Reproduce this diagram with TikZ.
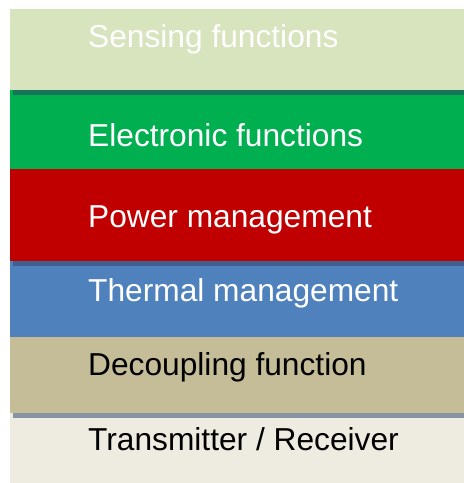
\documentclass[tikz,border=0pt]{standalone}
\usepackage{fontspec}
\setmainfont{Liberation Sans}
\usetikzlibrary{positioning}
\definecolor{sensegreen}{HTML}{D7E4BD}
\definecolor{elecgreen}{HTML}{00B050}
\definecolor{powerred}{HTML}{C00000}
\definecolor{thermblue}{HTML}{4F81BD}
\definecolor{decouptan}{HTML}{C4BD97}
\definecolor{transbeige}{HTML}{EEECE1}
\definecolor{stripgreen}{HTML}{17735A}
\definecolor{stripblue}{HTML}{3C6190}
\definecolor{stripgrey}{HTML}{8794A3}
\begin{document}
\begin{tikzpicture}[x=1pt,y=-1pt,
  layer/.style={rectangle,inner sep=0pt,outer sep=0pt,anchor=north west,
    minimum width=454pt},
  strip/.style={rectangle,inner sep=0pt,outer sep=0pt,anchor=north west,
    minimum width=451pt,minimum height=5pt},
  labeltext/.style={anchor=base west,inner sep=0pt,
    font=\fontsize{31.7}{38}\selectfont}
]
\useasboundingbox[fill=white] (0,0) rectangle (464,483);
% layers, top to bottom
\node[layer,fill=sensegreen,minimum height=81pt] (sense) at (10,9) {};
\node[layer,fill=elecgreen,minimum height=79pt] (elec) at (10,90) {};
\node[layer,fill=powerred,minimum height=92pt] (power) at (10,169) {};
\node[layer,fill=thermblue,minimum height=76pt] (therm) at (10,261) {};
\node[layer,fill=decouptan,minimum height=76pt] (decoup) at (10,337) {};
\node[layer,fill=transbeige,minimum height=70pt] (trans) at (10,413) {};
% shadow strips
\node[strip,fill=stripgreen] (stripA) at (13,90) {};
\node[strip,fill=stripblue] (stripB) at (13,261) {};
\node[strip,fill=stripgrey] (stripC) at (13,413) {};
% texts
\node[labeltext,text=white] (senseT) at (88,47.5) {Sensing functions};
\node[labeltext,text=white] (elecT) at (88,146) {Electronic functions};
\node[labeltext,text=white] (powerT) at (88,227) {Power management};
\node[labeltext,text=white] (thermT) at (88,301) {Thermal management};
\node[labeltext,text=black] (decoupT) at (88,375) {Decoupling function};
\node[labeltext,text=black] (transT) at (88,450) {Transmitter / Receiver};
\end{tikzpicture}
\end{document}
